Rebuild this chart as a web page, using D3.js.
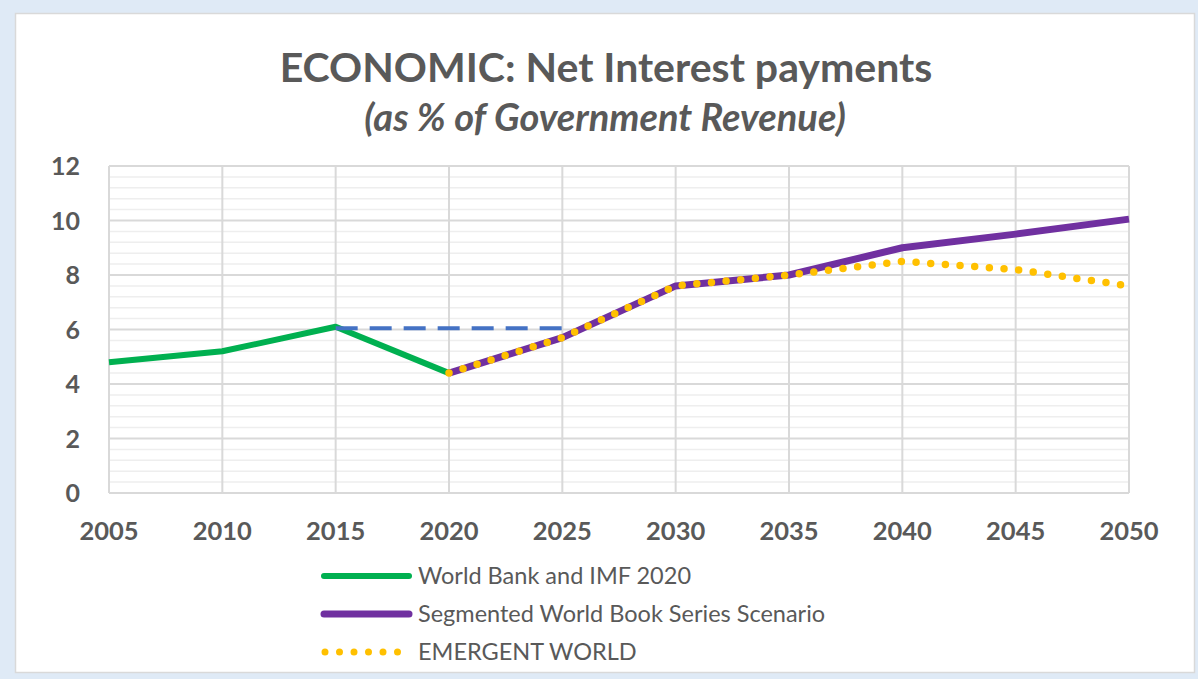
<!DOCTYPE html>
<html><head><meta charset="utf-8">
<script src="https://cdn.jsdelivr.net/npm/d3@7"></script>
<style>body{margin:0;background:#dfeaf6;}svg{display:block;}</style>
</head><body>
<svg id="c" width="1198" height="679"></svg>
<script>
const years = [2005,2010,2015,2020,2025,2030,2035,2040,2045,2050];
const yTicks = [0,2,4,6,8,10,12];
const greenYears = [2005,2010,2015,2020];
const greenVals = [4.8,5.2,6.1,4.4];
const blueYears = [2015,2025];
const blueVals = [6.05,6.05];
const purpleYears = [2020,2025,2030,2035,2040,2045,2050];
const purpleVals = [4.4,5.7,7.6,8.0,9.0,9.5,10.05];
const yellowYears = [2020,2025,2030,2035,2040,2045,2050];
const yellowVals = [4.4,5.7,7.6,8.0,8.5,8.2,7.6];
const legendLabels = ["World Bank and IMF 2020","Segmented World Book Series Scenario","EMERGENT WORLD"];

const svg = d3.select("#c");
const font = "Lato, 'Open Sans', sans-serif";
svg.append("rect").attr("x",15.5).attr("y",13.5).attr("width",1179).attr("height",659)
  .attr("fill","#fff").attr("stroke","#d9d9d9").attr("stroke-width",1.5);

const x = d3.scaleLinear().domain([2005,2050]).range([109,1129]);
const y = d3.scaleLinear().domain([0,12]).range([493,166]);

// minor grid
const minor = d3.range(0,12.001,0.4).filter(v=>Math.abs(v/2-Math.round(v/2))>0.01);
svg.append("g").selectAll("line").data(minor).join("line")
  .attr("x1",x(2005)).attr("x2",x(2050)).attr("y1",d=>y(d)).attr("y2",d=>y(d))
  .attr("stroke","#eeeeee").attr("stroke-width",1.5);
// major y grid
svg.append("g").selectAll("line").data(yTicks).join("line")
  .attr("x1",x(2005)).attr("x2",x(2050)).attr("y1",d=>y(d)).attr("y2",d=>y(d))
  .attr("stroke","#d9d9d9").attr("stroke-width",2);
// vertical grid
svg.append("g").selectAll("line").data(years).join("line")
  .attr("x1",d=>x(d)).attr("x2",d=>x(d)).attr("y1",y(0)).attr("y2",y(12))
  .attr("stroke","#d9d9d9").attr("stroke-width",2);

// axis labels
svg.append("g").selectAll("text").data(yTicks).join("text")
  .attr("x",80).attr("y",d=>y(d)+9).attr("text-anchor","end")
  .attr("font-family",font).attr("font-weight","bold").attr("font-size",25).attr("fill","#595959")
  .text(d=>d);
svg.append("g").selectAll("text").data(years).join("text")
  .attr("x",d=>x(d)).attr("y",540).attr("text-anchor","middle")
  .attr("font-family",font).attr("font-weight","bold").attr("font-size",25.5).attr("fill","#595959")
  .text(d=>d);

// title
svg.append("text").attr("x",606).attr("y",82).attr("text-anchor","middle")
  .attr("font-family",font).attr("font-weight","bold").attr("font-size",41).attr("fill","#595959")
  .text("ECONOMIC: Net Interest payments");
svg.append("text").attr("x",605).attr("y",131).attr("text-anchor","middle")
  .attr("font-family",font).attr("font-weight","bold").attr("font-style","italic").attr("font-size",38).attr("fill","#595959")
  .text("(as % of Government Revenue)");

const line = d3.line().x(d=>x(d[0])).y(d=>y(d[1]));
const zip = (a,b)=>a.map((v,i)=>[v,b[i]]);

svg.append("path").attr("d",line(zip(greenYears,greenVals))).attr("fill","none")
  .attr("stroke","#00b050").attr("stroke-width",6).attr("stroke-linejoin","round");
svg.append("path").attr("d",line(zip(blueYears,blueVals))).attr("fill","none")
  .attr("stroke","#4472c4").attr("stroke-width",4).attr("stroke-dasharray","22 12");
svg.append("path").attr("d",line(zip(purpleYears,purpleVals))).attr("fill","none")
  .attr("stroke","#7030a0").attr("stroke-width",7).attr("stroke-linejoin","round");
svg.append("path").attr("d",line(zip(yellowYears,yellowVals))).attr("fill","none")
  .attr("stroke","#ffc000").attr("stroke-width",7.5).attr("stroke-linecap","round").attr("stroke-dasharray","0 14.7");

// legend
const ly = [576,614,652];
const styles = [
  {c:"#00b050",w:6,dash:null,cap:"round"},
  {c:"#7030a0",w:7,dash:null,cap:"round"},
  {c:"#ffc000",w:7,dash:"0 14.5",cap:"round"}
];
legendLabels.forEach((lab,i)=>{
  const s = styles[i];
  const l = svg.append("line").attr("x1",i==2?325:324).attr("x2",i==2?398:409).attr("y1",ly[i]).attr("y2",ly[i])
    .attr("stroke",s.c).attr("stroke-width",s.w).attr("stroke-linecap",s.cap);
  if(s.dash) l.attr("stroke-dasharray",s.dash);
  svg.append("text").attr("x",418).attr("y",ly[i]+8).attr("font-family",font).attr("font-size",23.5)
    .attr("fill","#595959").text(lab);
});
</script>
</body></html>
